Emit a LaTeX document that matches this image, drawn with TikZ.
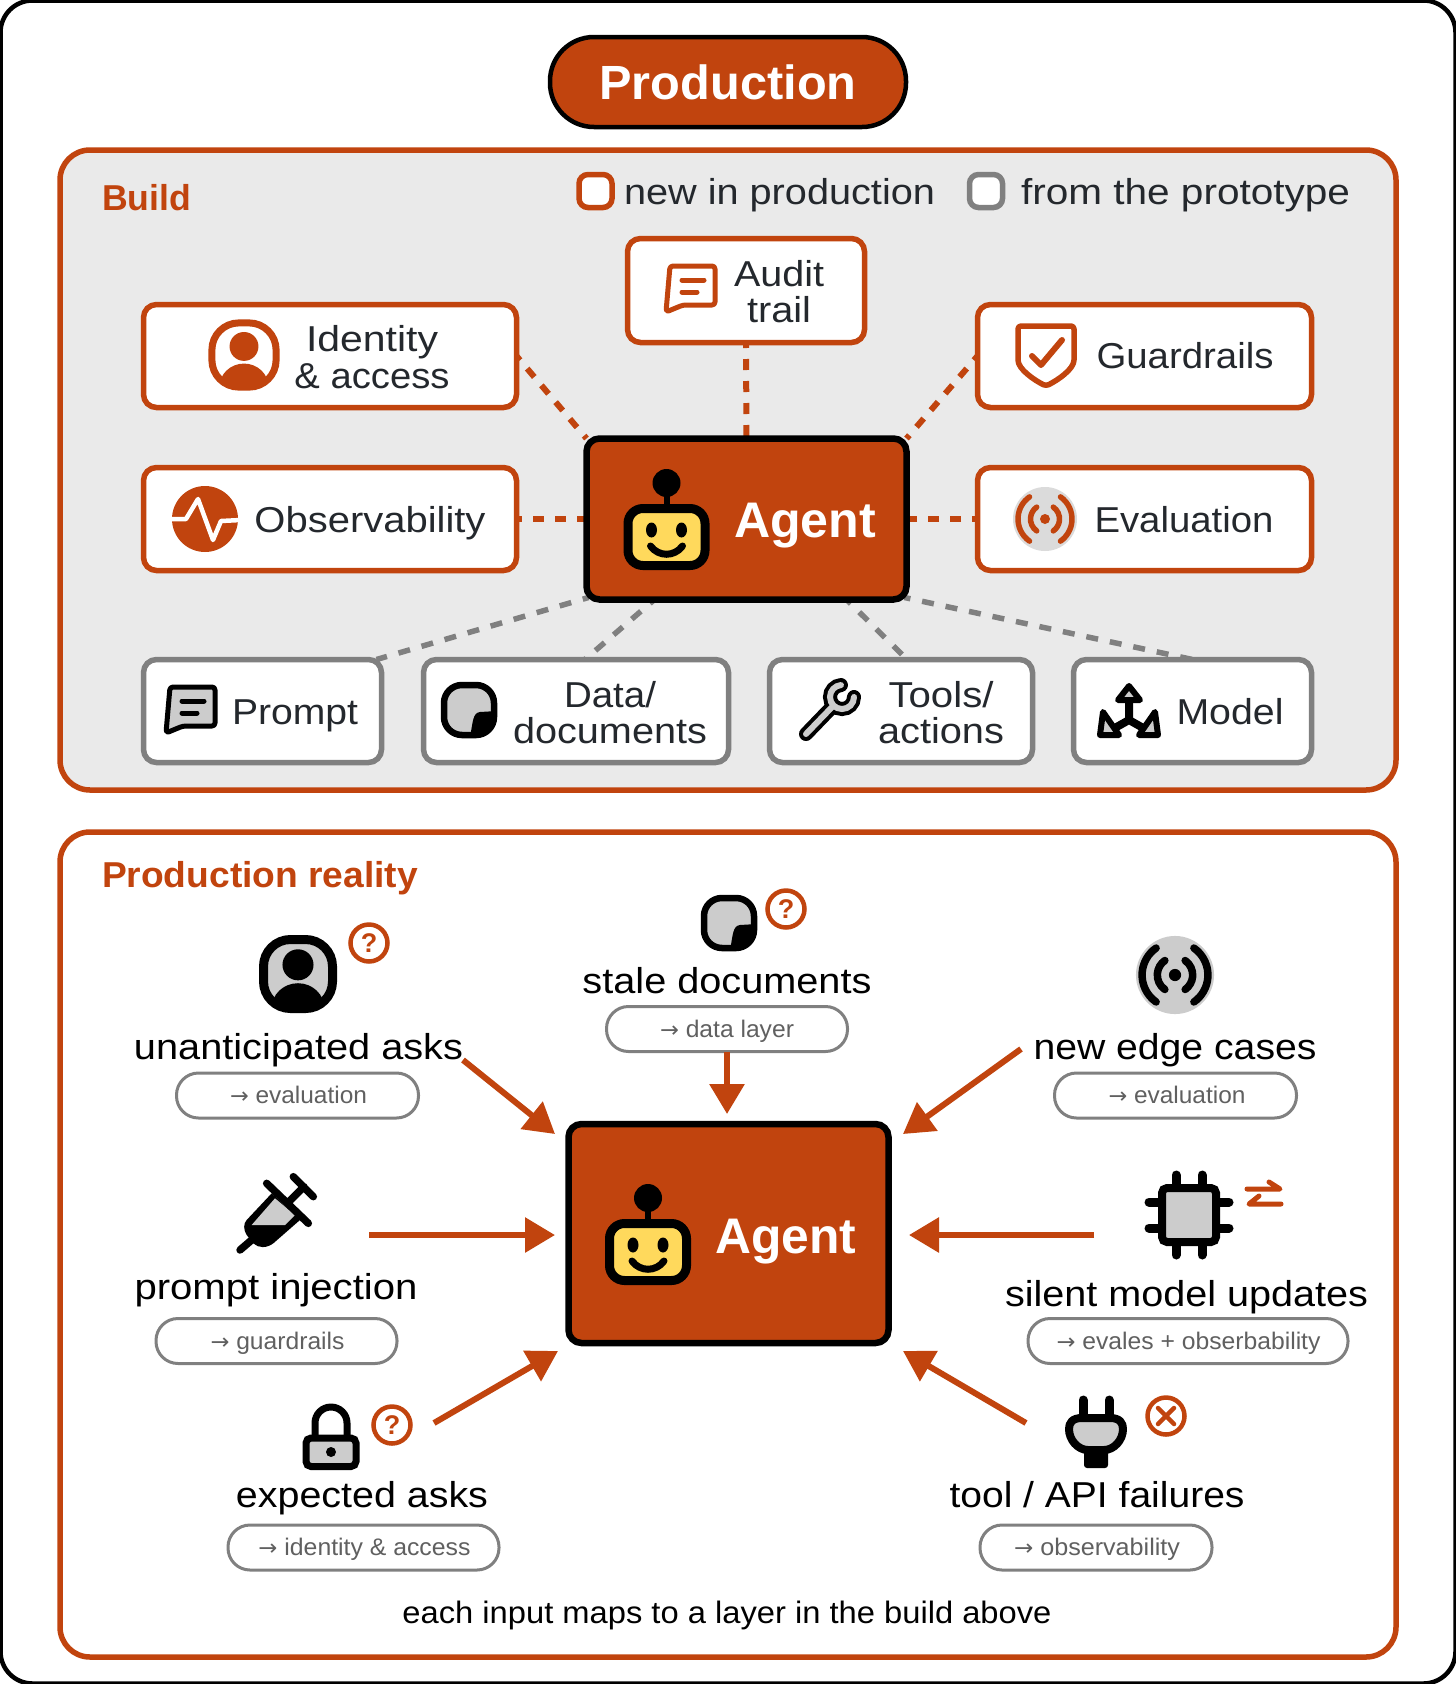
\documentclass[tikz,border=0pt]{standalone}
\usepackage{fontspec}
\usepackage{graphicx}
\setmainfont{Liberation Sans}
\newfontfamily\arrf{DejaVu Sans}
\usetikzlibrary{arrows.meta,calc}
\definecolor{org}{HTML}{C1440E}
\definecolor{gry}{HTML}{808080}
\definecolor{pan}{HTML}{EAEAEA}
\definecolor{ifil}{HTML}{CCCCCC}
\definecolor{ink}{HTML}{24282D}
\definecolor{yel}{HTML}{FFD95C}
\pgfdeclarelayer{backl}
\pgfdeclarelayer{edgel}
\pgfsetlayers{backl,edgel,main}
\newcommand{\T}[2]{\resizebox{#1pt}{\height}{#2}}
\newcommand{\Ar}{{\arrf\fontsize{22}{22}\selectfont →}}
\tikzset{
 panelbox/.style={draw=org,line width=5.5pt,rounded corners=30pt,inner sep=0,outer sep=0,minimum width=1336pt},
 obox/.style={draw=org,fill=white,line width=5.5pt,rounded corners=13pt,inner sep=0,outer sep=0,minimum height=103pt},
 gbox/.style={draw=gry,fill=white,line width=5.5pt,rounded corners=13pt,inner sep=0,outer sep=0,minimum height=103pt},
 agentbox/.style={draw=black,fill=org,line width=6.5pt,rounded corners=13pt,inner sep=0,outer sep=0,minimum width=320pt},
 pillbox/.style={draw=gry,fill=white,line width=3pt,rounded corners=22pt,inner sep=0,outer sep=0,minimum height=45pt},
 txt/.style={inner sep=0,outer sep=0,text height=30pt,text depth=3pt,font=\fontsize{36}{36}\selectfont},
 blab/.style={txt,text=ink},
 rlab/.style={txt,text=black},
 plab/.style={inner sep=0,outer sep=0,text=gry!75!black,text height=20pt,text depth=3pt,font=\fontsize{24}{24}\selectfont},
 hlab/.style={inner sep=0,outer sep=0,text=org,text height=29pt,text depth=4pt,font=\bfseries\fontsize{36}{36}\selectfont},
 ag/.style={inner sep=0,outer sep=0,text=white,text height=38pt,text depth=4pt,font=\bfseries\fontsize{50}{50}\selectfont},
 odash/.style={draw=org,line width=6pt,dash pattern=on 11pt off 11pt,dash phase=5.5pt},
 gdash/.style={draw=gry,line width=5.5pt,dash pattern=on 12pt off 12pt,dash phase=6pt},
 arr/.style={draw=org,line width=6pt,-{Triangle[length=30pt,width=34pt]}},
 legsq/.style={fill=white,line width=5.5pt,rounded corners=9pt,inner sep=0,outer sep=0,minimum size=33pt},
}
% robot, origin at body centre
\newcommand{\robot}[2]{\begin{scope}[shift={(#1,#2)}]
 \draw[line width=6pt] (0,-54)--(0,-30);
 \fill (0,-54) circle (14);
 \draw[line width=9pt,fill=yel,rounded corners=15pt] (-38.5,-28.5) rectangle (38.5,28.5);
 \fill (-15,-7) ellipse (5.5 and 7.5);
 \fill (15,-7) ellipse (5.5 and 7.5);
 \draw[line width=7pt,line cap=round] (-16,9) .. controls (-8,20) and (8,20) .. (16,9);
\end{scope}}
% person: x y scale stroke fill lw
\newcommand{\personicon}[6]{\begin{scope}[shift={(#1,#2)},scale=#3]
 \draw[#4,fill=#5,line width=#6pt,rounded corners=27pt] (-30,-30) rectangle (30,30);
 \begin{scope}
  \clip[rounded corners=27pt] (-30,-30) rectangle (30,30);
  \fill[#4] (0,-8) circle (13.5);
  \fill[#4] (0,30) ellipse (23 and 22);
 \end{scope}
\end{scope}}
\newcommand{\chaticon}[4]{\begin{scope}[shift={(#1,#2)}]
 \draw[#3,fill=#4,line width=5pt,line join=round,rounded corners=3pt] (-21,-23)--(24,-23)--(24,16)--(-8,16)--(-25,23)--cycle;
 \draw[#3,line width=5pt,line cap=round] (-9,-9)--(13,-9) (-9,3)--(6,3);
\end{scope}}
\newcommand{\evalicon}[6]{\begin{scope}[shift={(#1,#2)},scale=#3]
 \fill[#5] (0,0) circle (32);
 \draw[#4,line width=#6pt,line cap=round]
   (125:27) arc (125:235:27) (-55:27) arc (-55:55:27)
   (125:14.5) arc (125:235:14.5) (-55:14.5) arc (-55:55:14.5);
 \fill[#4] (0,0) circle (5);
\end{scope}}
\newcommand{\stickyicon}[2]{\begin{scope}[shift={(#1,#2)}]
 \fill[ifil,rounded corners=18pt] (-25,-25) rectangle (25,25);
 \begin{scope}
  \clip[rounded corners=18pt] (-25,-25) rectangle (25,25);
  \fill[black] (28,1) -- (11,2) .. controls (4,3) and (4,10) .. (1,28) -- (28,28) -- cycle;
 \end{scope}
 \draw[black,line width=6.5pt,rounded corners=18pt] (-25,-25) rectangle (25,25);
\end{scope}}
\newcommand{\qmark}[3]{\begin{scope}[shift={(#1,#2)}]
 \draw[org,line width=4.5pt] (0,0) circle (18.5);
\end{scope}
 \node[inner sep=0,text=org,font=\bfseries\fontsize{27}{27}\selectfont] (#3) at (#1,#2) {?};}
\begin{document}
\begin{tikzpicture}[yscale=-1,x=1pt,y=1pt]
\useasboundingbox (0,0) rectangle (1456,1684);
\begin{pgfonlayer}{backl}
 \fill[white] (0,0) rectangle (1456,1684);
 \node[draw=black,line width=4.5pt,rounded corners=32pt,minimum width=1455pt,minimum height=1683pt,inner sep=0,outer sep=0] (frame) at (728,842) {};
 \node[panelbox,fill=pan,minimum height=640pt] (build) at (728,470) {};
 \node[panelbox,fill=white,minimum height=825pt] (reality) at (728,1244.5) {};
\end{pgfonlayer}

% title
\node[draw=black,fill=org,line width=4.5pt,rounded corners=44pt,minimum width=356pt,minimum height=90pt,inner sep=0,outer sep=0] (titlepill) at (728,82) {};
\node[ag,font=\bfseries\fontsize{48}{48}\selectfont] (titletext) at (728,82) {\T{257}{Production}};

% build heading + legend
\node[hlab,anchor=west] (buildt) at (102,198) {\T{89}{Build}};
\node[legsq,draw=org] (lego) at (595.5,191) {};
\node[blab,anchor=west] (legot) at (624,191) {\T{311}{new in production}};
\node[legsq,draw=gry] (legg) at (986,191) {};
\node[blab,anchor=west] (leggt) at (1021,191) {\T{329}{from the prototype}};

% build boxes
\node[obox,minimum width=373pt] (identity) at (330,356) {};
\node[obox,minimum width=373pt] (observ) at (330,519) {};
\node[obox,minimum width=237pt,minimum height=104pt] (audit) at (746,290.5) {};
\node[obox,minimum width=334pt] (guard) at (1144.5,356) {};
\node[obox,minimum width=334pt] (evalb) at (1144.5,519) {};
\node[gbox,minimum width=238pt] (prompt) at (262.5,711) {};
\node[gbox,minimum width=305pt] (data) at (576,711) {};
\node[gbox,minimum width=263pt] (tools) at (901,711) {};
\node[gbox,minimum width=238pt] (model) at (1192.5,711) {};
\node[agentbox,minimum height=161pt] (agenta) at (746.5,519) {};

\node[blab] (t1) at (372,338) {\T{132}{Identity}};
\node[blab] (t2) at (372,375) {\T{155}{\& access}};
\node[blab] (t3) at (370,519) {\T{231}{Observability}};
\node[blab] (t4) at (779,273) {\T{90}{Audit}};
\node[blab] (t5) at (779,309) {\T{64}{trail}};
\node[blab] (t6) at (1185,355) {\T{177}{Guardrails}};
\node[blab] (t7) at (1184,519) {\T{179}{Evaluation}};
\node[blab] (t8) at (295,711) {\T{126}{Prompt}};
\node[blab] (t9) at (610,694) {\T{92}{Data/}};
\node[blab] (t10) at (610,730) {\T{194}{documents}};
\node[blab] (t11) at (941,694) {\T{105}{Tools/}};
\node[blab] (t12) at (941,730) {\T{126}{actions}};
\node[blab] (t13) at (1230,711) {\T{107}{Model}};
\node[ag] (agentat) at (805,520) {\T{142}{Agent}};
\robot{666.5}{537}

% build icons
\personicon{244}{355}{1.07}{org}{white}{7}
% pulse
\begin{scope}[shift={(205,519)}]
 \fill[org] (0,0) circle (33);
 \clip (0,0) circle (33);
 \draw[white,line width=4.5pt,line join=round,line cap=round] (-36,0)--(-19,0)--(-7,-20)--(8,21)--(16,2)--(36,1);
\end{scope}
\chaticon{691}{289}{org}{white}
% shield
\begin{scope}[shift={(1046,355)}]
 \draw[org,line width=5.5pt,line join=round,rounded corners=3pt] (-28,-29)--(28,-29)--(28,2) .. controls (28,14) and (12,25) .. (0,31) .. controls (-12,25) and (-28,14) .. (-28,2) -- cycle;
 \draw[org,line width=6pt,line cap=round,line join=round] (-14,1)--(-5,10)--(16,-15);
\end{scope}
\evalicon{1045}{519}{1}{org}{ifil!70!white}{5.5}
\chaticon{191}{710}{black}{ifil}
\stickyicon{469}{710}
% wrench
\begin{scope}[shift={(829,710)}]
 \draw[black,line width=14pt,line cap=round] (-23,24)--(4,-4) ;
 \draw[black,line width=14pt,line cap=round] (13,-13)++(0:12) arc (0:265:12);
 \draw[ifil,line width=6pt,line cap=round] (-23,24)--(4,-4);
 \draw[ifil,line width=6pt,line cap=round] (13,-13)++(0:12) arc (0:265:12);
\end{scope}
% model
\begin{scope}[shift={(1129,716)}]
 \draw[black,line width=8pt,line join=round] (0,-18)--(0,4) (-16,13)--(0,4)--(16,13);
 \draw[black,fill=ifil,line width=6pt,line join=round] (0,-30)--(-11,-16)--(11,-16)--cycle;
 \draw[black,fill=ifil,line width=6pt,line join=round] (26,-4)--(10,19)--(29,19)--cycle;
 \draw[black,fill=ifil,line width=6pt,line join=round] (-26,-4)--(-10,19)--(-29,19)--cycle;
\end{scope}

% reality
\node[hlab,anchor=west] (realt) at (102,875) {\T{316}{Production reality}};
\node[agentbox,minimum height=219pt] (agentb) at (728.5,1233.5) {};
\node[ag] (agentbt) at (786,1236) {\T{141}{Agent}};
\robot{648}{1252}

\node[rlab] (l1) at (727,980) {\T{289}{stale documents}};
\node[rlab] (l2) at (298.5,1046) {\T{329}{unanticipated asks}};
\node[rlab] (l3) at (1175,1046) {\T{283}{new edge cases}};
\node[rlab] (l4) at (276,1286) {\T{283}{prompt injection}};
\node[rlab] (l5) at (1186.5,1293) {\T{363}{silent model updates}};
\node[rlab] (l6) at (362,1494) {\T{252}{expected asks}};
\node[rlab] (l7) at (1097,1494) {\T{295}{tool / API failures}};
\node[rlab,font=\fontsize{31}{31}\selectfont] (foot) at (727,1610) {\T{649}{each input maps to a layer in the build above}};

\node[pillbox,minimum width=241pt] (p1) at (727,1029) {};
\node[pillbox,minimum width=242pt] (p2) at (297.5,1095.5) {};
\node[pillbox,minimum width=242pt] (p3) at (1175.5,1095.5) {};
\node[pillbox,minimum width=241pt] (p4) at (276.5,1341) {};
\node[pillbox,minimum width=320pt] (p5) at (1188,1341) {};
\node[pillbox,minimum width=271pt] (p6) at (363.5,1547.5) {};
\node[pillbox,minimum width=232pt] (p7) at (1096,1547.5) {};
\node[plab] (pt1) at (727,1029) {\T{134}{\Ar{} data layer}};
\node[plab] (pt2) at (298.5,1095) {\T{137}{\Ar{} evaluation}};
\node[plab] (pt3) at (1177,1095) {\T{137}{\Ar{} evaluation}};
\node[plab] (pt4) at (277.5,1341) {\T{134}{\Ar{} guardrails}};
\node[plab] (pt5) at (1188.5,1341) {\T{264}{\Ar{} evales + obserbability}};
\node[plab] (pt6) at (364.5,1547) {\T{212}{\Ar{} identity \& access}};
\node[plab] (pt7) at (1097,1547) {\T{166}{\Ar{} observability}};

% reality icons
\personicon{298}{974}{1.15}{black}{ifil}{9}
\stickyicon{729}{923}
\evalicon{1175}{975}{1.22}{black}{ifil}{7.5}
% syringe
\begin{scope}[shift={(230,1165)},scale=0.3333]
 \draw[black,line width=7.5pt,line cap=round] (65,225)--(30,255);
 \fill[black] (125,85)--(210,165)--(130,235) .. controls (110,250) and (85,250) .. (70,235) -- (50,210) .. controls (40,195) and (40,175) .. (50,165) -- cycle;
 \fill[ifil] (135,100)--(195,150)--(165,180)--(65,180)--cycle;
 \draw[black,line width=7.5pt,line cap=round] (110,55)--(235,175) (172,115)--(222,65) (190,35)--(250,95);
\end{scope}
% chip
\begin{scope}[shift={(1189,1215)}]
 \draw[black,line width=9pt,line cap=round] (-13,-40)--(-13,-30) (13,-40)--(13,-30) (-13,40)--(-13,30) (13,40)--(13,30)
   (-40,-13)--(-30,-13) (-40,13)--(-30,13) (40,-13)--(30,-13) (40,13)--(30,13);
 \draw[black,fill=ifil,line width=8pt,rounded corners=5pt] (-27,-27) rectangle (27,27);
\end{scope}
% lock
\begin{scope}[shift={(331,1437)}]
 \draw[black,line width=7pt] (-16,0)--(-16,-14) arc (180:360:16) -- (16,0);
 \draw[black,fill=ifil,line width=7pt,rounded corners=5pt] (-25,1) rectangle (25,29.5);
 \fill[black] (0,15) circle (5);
\end{scope}
% plug
\begin{scope}[shift={(1096,1432)}]
 \draw[black,line width=9pt,line cap=round] (-13,-32)--(-13,-12) (13,-32)--(13,-12);
 \fill[black,rounded corners=3pt] (-12,14) rectangle (12,36);
 \draw[black,fill=ifil,line width=8pt,line join=round] (-14,-14)--(14,-14) .. controls (24,-14) and (27,-9) .. (27,-3) .. controls (27,8) and (18,18) .. (8,18) -- (-8,18) .. controls (-18,18) and (-27,8) .. (-27,-3) .. controls (-27,-9) and (-24,-14) .. (-14,-14) -- cycle;
\end{scope}
\qmark{369}{943}{q1}
\qmark{786}{909}{q2}
\qmark{392}{1425}{q3}
% cross
\begin{scope}[shift={(1166,1416)}]
 \draw[org,line width=4.5pt] (0,0) circle (18.5);
 \draw[org,line width=4.5pt,line cap=round] (-8,-8)--(8,8) (-8,8)--(8,-8);
\end{scope}
% swap
\begin{scope}[shift={(1264,1196)}]
 \draw[org,line width=5pt,line cap=round,line join=round] (-17,-7)--(16,-7)--(5,-14) (17,8)--(-15,8)--(-5,0);
\end{scope}

\coordinate (a1s) at (463,1060);
\coordinate (a1e) at (555,1134);
\coordinate (a3s) at (1021,1049);
\coordinate (a3e) at (903,1134);
\coordinate (a4s) at (369,1235);
\coordinate (a4e) at (555,1235);
\coordinate (a5s) at (1094,1235);
\coordinate (a5e) at (909,1235);
\coordinate (a6s) at (434,1423);
\coordinate (a6e) at (558,1351);
\coordinate (a7s) at (1026,1423);
\coordinate (a7e) at (903,1351);
\draw[arr] (a1s)--(a1e);
\draw[arr,shorten >=10pt] (p1.south)--(p1.south|-agentb.north);
\draw[arr] (a3s)--(a3e);
\draw[arr] (a4s)--(a4e);
\draw[arr] (a5s)--(a5e);
\draw[arr] (a6s)--(a6e);
\draw[arr] (a7s)--(a7e);

\begin{pgfonlayer}{edgel}
 \draw[odash] (identity.east)--(agenta.north west);
 \draw[odash] (audit.south)--(agenta.north);
 \draw[odash] (guard.west)--(agenta.north east);
 \draw[odash] (observ.east)--(agenta.west);
 \draw[odash] (evalb.west)--(agenta.east);
 \draw[gdash] ($(agenta.south west)+(2,-2)$)--($(prompt.north east)+(-5,0)$);
 \draw[gdash] ($(agenta.south)+(-92,0)$)--($(data.north)+(9,0)$);
 \draw[gdash] ($(agenta.south)+(100,0)$)--($(tools.north)+(6,0)$);
 \draw[gdash] ($(agenta.south east)+(-2,-2)$)--($(model.north)+(0,0)$);
\end{pgfonlayer}
\end{tikzpicture}
\end{document}
